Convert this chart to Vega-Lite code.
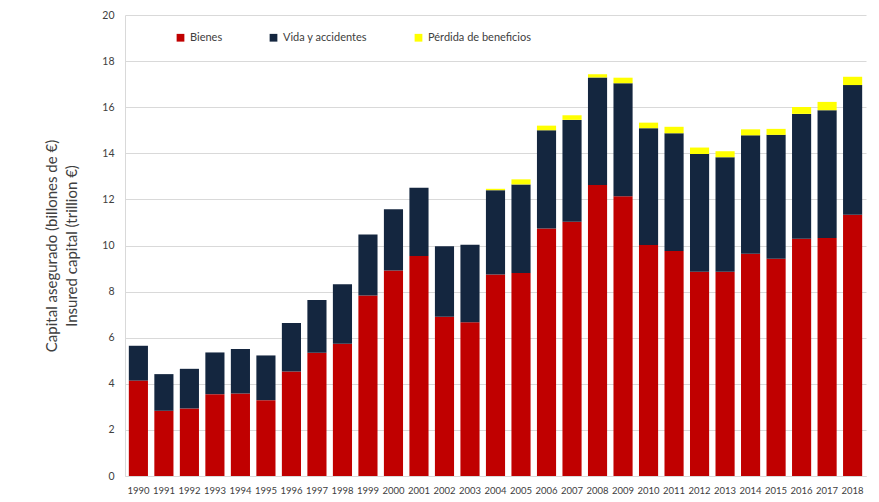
{
  "$schema": "https://vega.github.io/schema/vega-lite/v6.json",
  "autosize": "none",
  "width": 741,
  "height": 461,
  "padding": {"left": 125, "top": 15, "right": 13, "bottom": 26},
  "background": "white",
  "config": {
    "font": "Lato",
    "view": {"stroke": null}
  },
  "data": {
    "values": [
      {"year": "1990", "tipo": "Bienes", "orden": 1, "valor": 4.14}, {"year": "1990", "tipo": "Vida y accidentes", "orden": 2, "valor": 1.51},
      {"year": "1991", "tipo": "Bienes", "orden": 1, "valor": 2.83}, {"year": "1991", "tipo": "Vida y accidentes", "orden": 2, "valor": 1.59},
      {"year": "1992", "tipo": "Bienes", "orden": 1, "valor": 2.93}, {"year": "1992", "tipo": "Vida y accidentes", "orden": 2, "valor": 1.72},
      {"year": "1993", "tipo": "Bienes", "orden": 1, "valor": 3.55}, {"year": "1993", "tipo": "Vida y accidentes", "orden": 2, "valor": 1.81},
      {"year": "1994", "tipo": "Bienes", "orden": 1, "valor": 3.58}, {"year": "1994", "tipo": "Vida y accidentes", "orden": 2, "valor": 1.93},
      {"year": "1995", "tipo": "Bienes", "orden": 1, "valor": 3.29}, {"year": "1995", "tipo": "Vida y accidentes", "orden": 2, "valor": 1.94},
      {"year": "1996", "tipo": "Bienes", "orden": 1, "valor": 4.53}, {"year": "1996", "tipo": "Vida y accidentes", "orden": 2, "valor": 2.11},
      {"year": "1997", "tipo": "Bienes", "orden": 1, "valor": 5.35}, {"year": "1997", "tipo": "Vida y accidentes", "orden": 2, "valor": 2.29},
      {"year": "1998", "tipo": "Bienes", "orden": 1, "valor": 5.74}, {"year": "1998", "tipo": "Vida y accidentes", "orden": 2, "valor": 2.58},
      {"year": "1999", "tipo": "Bienes", "orden": 1, "valor": 7.83}, {"year": "1999", "tipo": "Vida y accidentes", "orden": 2, "valor": 2.65},
      {"year": "2000", "tipo": "Bienes", "orden": 1, "valor": 8.91}, {"year": "2000", "tipo": "Vida y accidentes", "orden": 2, "valor": 2.66},
      {"year": "2001", "tipo": "Bienes", "orden": 1, "valor": 9.54}, {"year": "2001", "tipo": "Vida y accidentes", "orden": 2, "valor": 2.97},
      {"year": "2002", "tipo": "Bienes", "orden": 1, "valor": 6.91}, {"year": "2002", "tipo": "Vida y accidentes", "orden": 2, "valor": 3.06},
      {"year": "2003", "tipo": "Bienes", "orden": 1, "valor": 6.67}, {"year": "2003", "tipo": "Vida y accidentes", "orden": 2, "valor": 3.36},
      {"year": "2004", "tipo": "Bienes", "orden": 1, "valor": 8.74}, {"year": "2004", "tipo": "Vida y accidentes", "orden": 2, "valor": 3.66}, {"year": "2004", "tipo": "Pérdida de beneficios", "orden": 3, "valor": 0.06},
      {"year": "2005", "tipo": "Bienes", "orden": 1, "valor": 8.81}, {"year": "2005", "tipo": "Vida y accidentes", "orden": 2, "valor": 3.84}, {"year": "2005", "tipo": "Pérdida de beneficios", "orden": 3, "valor": 0.22},
      {"year": "2006", "tipo": "Bienes", "orden": 1, "valor": 10.74}, {"year": "2006", "tipo": "Vida y accidentes", "orden": 2, "valor": 4.26}, {"year": "2006", "tipo": "Pérdida de beneficios", "orden": 3, "valor": 0.2},
      {"year": "2007", "tipo": "Bienes", "orden": 1, "valor": 11.03}, {"year": "2007", "tipo": "Vida y accidentes", "orden": 2, "valor": 4.42}, {"year": "2007", "tipo": "Pérdida de beneficios", "orden": 3, "valor": 0.2},
      {"year": "2008", "tipo": "Bienes", "orden": 1, "valor": 12.62}, {"year": "2008", "tipo": "Vida y accidentes", "orden": 2, "valor": 4.67}, {"year": "2008", "tipo": "Pérdida de beneficios", "orden": 3, "valor": 0.14},
      {"year": "2009", "tipo": "Bienes", "orden": 1, "valor": 12.14}, {"year": "2009", "tipo": "Vida y accidentes", "orden": 2, "valor": 4.9}, {"year": "2009", "tipo": "Pérdida de beneficios", "orden": 3, "valor": 0.24},
      {"year": "2010", "tipo": "Bienes", "orden": 1, "valor": 10.02}, {"year": "2010", "tipo": "Vida y accidentes", "orden": 2, "valor": 5.07}, {"year": "2010", "tipo": "Pérdida de beneficios", "orden": 3, "valor": 0.24},
      {"year": "2011", "tipo": "Bienes", "orden": 1, "valor": 9.76}, {"year": "2011", "tipo": "Vida y accidentes", "orden": 2, "valor": 5.11}, {"year": "2011", "tipo": "Pérdida de beneficios", "orden": 3, "valor": 0.28},
      {"year": "2012", "tipo": "Bienes", "orden": 1, "valor": 8.86}, {"year": "2012", "tipo": "Vida y accidentes", "orden": 2, "valor": 5.11}, {"year": "2012", "tipo": "Pérdida de beneficios", "orden": 3, "valor": 0.28},
      {"year": "2013", "tipo": "Bienes", "orden": 1, "valor": 8.86}, {"year": "2013", "tipo": "Vida y accidentes", "orden": 2, "valor": 4.97}, {"year": "2013", "tipo": "Pérdida de beneficios", "orden": 3, "valor": 0.26},
      {"year": "2014", "tipo": "Bienes", "orden": 1, "valor": 9.64}, {"year": "2014", "tipo": "Vida y accidentes", "orden": 2, "valor": 5.14}, {"year": "2014", "tipo": "Pérdida de beneficios", "orden": 3, "valor": 0.26},
      {"year": "2015", "tipo": "Bienes", "orden": 1, "valor": 9.43}, {"year": "2015", "tipo": "Vida y accidentes", "orden": 2, "valor": 5.37}, {"year": "2015", "tipo": "Pérdida de beneficios", "orden": 3, "valor": 0.26},
      {"year": "2016", "tipo": "Bienes", "orden": 1, "valor": 10.29}, {"year": "2016", "tipo": "Vida y accidentes", "orden": 2, "valor": 5.42}, {"year": "2016", "tipo": "Pérdida de beneficios", "orden": 3, "valor": 0.3},
      {"year": "2017", "tipo": "Bienes", "orden": 1, "valor": 10.32}, {"year": "2017", "tipo": "Vida y accidentes", "orden": 2, "valor": 5.55}, {"year": "2017", "tipo": "Pérdida de beneficios", "orden": 3, "valor": 0.36},
      {"year": "2018", "tipo": "Bienes", "orden": 1, "valor": 11.33}, {"year": "2018", "tipo": "Vida y accidentes", "orden": 2, "valor": 5.63}, {"year": "2018", "tipo": "Pérdida de beneficios", "orden": 3, "valor": 0.36}
    ]
  },
  "mark": {"type": "bar"},
  "encoding": {
    "x": {
      "field": "year",
      "type": "ordinal",
      "scale": {"paddingInner": 0.25, "paddingOuter": 0.15},
      "axis": {
        "title": null,
        "labelAngle": 0,
        "labelFontSize": 9.5,
        "labelColor": "#404040",
        "labelOverlap": false,
        "labelPadding": 9,
        "ticks": false,
        "domainColor": "#d9d9d9"
      }
    },
    "y": {
      "field": "valor",
      "type": "quantitative",
      "stack": "zero",
      "scale": {"domain": [0, 20], "nice": false},
      "axis": {
        "values": [0, 2, 4, 6, 8, 10, 12, 14, 16, 18, 20],
        "title": ["Capital asegurado (billones de €)", "Insured capital (trillion €)"],
        "titleFontSize": 15,
        "titleFontWeight": "normal",
        "titleColor": "#404040",
        "titleLineHeight": 20,
        "titlePadding": 22,
        "labelFontSize": 10.5,
        "labelColor": "#404040",
        "labelPadding": 11,
        "ticks": false,
        "gridColor": "#d9d9d9",
        "domainColor": "#d9d9d9"
      }
    },
    "color": {
      "field": "tipo",
      "type": "nominal",
      "sort": ["Bienes", "Vida y accidentes", "Pérdida de beneficios"],
      "scale": {
        "domain": ["Bienes", "Vida y accidentes", "Pérdida de beneficios"],
        "range": ["#c00000", "#14263f", "#ffff00"]
      },
      "legend": {
        "title": null,
        "orient": "none",
        "direction": "horizontal",
        "legendX": 50,
        "legendY": 17,
        "symbolType": "square",
        "symbolSize": 60,
        "symbolStrokeWidth": 0,
        "labelFontSize": 11,
        "labelColor": "#404040",
        "columnPadding": 45
      }
    },
    "order": {"field": "orden", "type": "quantitative"}
  }
}
